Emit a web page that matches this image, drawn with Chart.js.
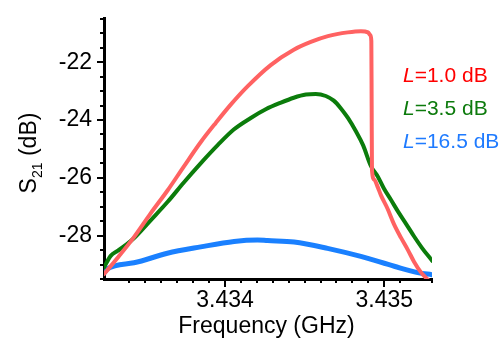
<!DOCTYPE html>
<html>
<head>
<meta charset="utf-8">
<script src="https://cdn.jsdelivr.net/npm/chart.js@4/dist/chart.umd.min.js"></script>
<style>
  html, body { margin: 0; padding: 0; background: #fff; }
  #c { display: block; }
</style>
</head>
<body>
<canvas id="c" width="502" height="339"></canvas>
<script>
// ---------- data ----------
const seriesLabels = ['L=1.0 dB', 'L=3.5 dB', 'L=16.5 dB'];

const redFreq = [3.43324, 3.433331, 3.433426, 3.433533, 3.43364, 3.43374, 3.433847, 3.433942, 3.434036,
                 3.434143, 3.434287, 3.434432, 3.434539, 3.434646, 3.434771, 3.434854, 3.434898,
                 3.434913, 3.434919, 3.434921, 3.434923, 3.434938, 3.43496, 3.434979, 3.435021, 3.435061,
                 3.435105, 3.435149, 3.435187, 3.435231, 3.435275];
const redS21  = [-29.33, -28.73, -28.07, -27.23, -26.43, -25.62, -24.77, -24.10, -23.47,
                 -22.83, -22.10, -21.57, -21.30, -21.10, -20.97, -20.93, -20.97,
                 -21.07, -21.27, -23.50, -25.73, -26.07, -26.33, -26.60, -27.07, -27.60,
                 -28.07, -28.50, -28.90, -29.27, -29.53];

const greenFreq = [3.43324, 3.433282, 3.433325, 3.433375, 3.433426, 3.433533, 3.43364, 3.43374, 3.433847,
                   3.433954, 3.434055, 3.434162, 3.434256, 3.434351, 3.434432, 3.434508, 3.43457,
                   3.434633, 3.434683, 3.434728, 3.434772, 3.434823, 3.434867, 3.434917, 3.434961,
                   3.434998, 3.435043, 3.435087, 3.435138, 3.435188, 3.435238, 3.435301];
const greenS21  = [-29.10, -28.70, -28.53, -28.33, -28.10, -27.47, -26.83, -26.17, -25.50,
                   -24.87, -24.33, -23.93, -23.63, -23.40, -23.23, -23.12, -23.10,
                   -23.17, -23.33, -23.60, -23.93, -24.40, -24.87, -25.60, -25.97,
                   -26.37, -26.77, -27.17, -27.60, -28.03, -28.43, -28.87];

const blueFreq = [3.43324, 3.43326, 3.433428, 3.433638, 3.433847, 3.434057, 3.434204, 3.434267, 3.434434,
                  3.434644, 3.434853, 3.435063, 3.43521, 3.4353];
const blueS21  = [-29.30, -29.15, -28.94, -28.61, -28.39, -28.20, -28.15, -28.17, -28.22,
                  -28.44, -28.72, -29.06, -29.28, -29.35];

const xMajorTicks = [3.434, 3.435];
const xTickLabels = ['3.434', '3.435'];
const yMajorTicks = [-28, -26, -24, -22];
const yTickLabels = ['-28', '-26', '-24', '-22'];

const xTitle = 'Frequency (GHz)';
const yTitleMain = 'S';
const yTitleSub = '21';
const yTitleRest = ' (dB)';

// ---------- styling ----------
const FONT = '"Liberation Sans", Arial, Helvetica, sans-serif';
const lineColors = ['#ff6262', '#0b7c0b', '#1a80ff'];
const textColors = ['#ff0000', '#0c7a0c', '#1f7bff'];

function toPoints(xs, ys) { return xs.map((v, i) => ({ x: v, y: ys[i] })); }
function near(a, b) { return Math.abs(a - b) < 1e-9; }

const decor = {
  id: 'decor',
  afterDraw(chart) {
    const { ctx, scales: { x, y } } = chart;
    ctx.save();
    ctx.strokeStyle = '#000';
    ctx.lineWidth = 2;
    x.ticks.forEach(t => {
      const r = t.value / 0.0001;
      if (Math.abs(r - Math.round(r)) > 1e-5) return;
      const major = xMajorTicks.some(m => near(m, t.value));
      const px = Math.round(x.getPixelForValue(t.value));
      ctx.beginPath();
      ctx.moveTo(px, x.top);
      ctx.lineTo(px, x.top + (major ? 8 : 4));
      ctx.stroke();
    });
    y.ticks.forEach(t => {
      const major = yMajorTicks.some(m => near(m, t.value));
      const py = Math.round(y.getPixelForValue(t.value));
      ctx.beginPath();
      ctx.moveTo(y.right, py);
      ctx.lineTo(y.right - (major ? 7 : 4), py);
      ctx.stroke();
    });

    ctx.fillStyle = '#000';
    ctx.font = '23px ' + FONT;
    ctx.textAlign = 'center';
    ctx.textBaseline = 'alphabetic';
    ctx.fillText(xTitle, 266.5, 333);

    ctx.save();
    ctx.translate(36, 153);
    ctx.rotate(-Math.PI / 2);
    const mainFont = '23px ' + FONT, subFont = '14px ' + FONT;
    ctx.font = mainFont; const w1 = ctx.measureText(yTitleMain).width;
    const w3 = ctx.measureText(yTitleRest).width;
    ctx.font = subFont; const w2 = ctx.measureText(yTitleSub).width;
    let sx = -(w1 + w2 + w3) / 2;
    ctx.textAlign = 'left';
    ctx.font = mainFont; ctx.fillText(yTitleMain, sx, 0); sx += w1;
    ctx.font = subFont; ctx.fillText(yTitleSub, sx, 6); sx += w2;
    ctx.font = mainFont; ctx.fillText(yTitleRest, sx, 0);
    ctx.restore();

    const baselines = [82, 115, 148];
    chart.data.datasets.forEach((ds, i) => {
      const lab = ds.label;
      let lx = 403;
      ctx.fillStyle = textColors[i];
      ctx.textAlign = 'left';
      ctx.font = 'italic 21px ' + FONT;
      ctx.fillText(lab[0], lx, baselines[i]);
      lx += ctx.measureText(lab[0]).width;
      ctx.font = '21px ' + FONT;
      ctx.fillText(lab.slice(1), lx, baselines[i]);
    });
    ctx.restore();
  }
};

const mk = (label, xs, ys, i, width) => ({
  label, data: toPoints(xs, ys),
  borderColor: lineColors[i], backgroundColor: lineColors[i],
  borderWidth: width, pointRadius: 0, fill: false,
  borderJoinStyle: 'round', borderCapStyle: 'round',
  cubicInterpolationMode: 'monotone', order: i
});

new Chart(document.getElementById('c'), {
  type: 'line',
  data: {
    datasets: [
      mk(seriesLabels[0], redFreq, redS21, 0, 4),
      mk(seriesLabels[1], greenFreq, greenS21, 1, 4),
      mk(seriesLabels[2], blueFreq, blueS21, 2, 5)
    ]
  },
  options: {
    responsive: false,
    animation: false,
    devicePixelRatio: 1,
    layout: { padding: { left: 0, right: 70, top: 10, bottom: 0 } },
    plugins: { legend: { display: false }, tooltip: { enabled: false } },
    scales: {
      x: {
        type: 'linear', position: 'bottom',
        min: 3.43324, max: 3.4353,
        afterFit(s) { s.height = 60; },
        grid: { drawOnChartArea: false, drawTicks: true, tickLength: 8, tickColor: 'rgba(0,0,0,0)' },
        border: { display: true, width: 3, color: '#000' },
        ticks: {
          stepSize: 0.0001, autoSkip: false, maxRotation: 0, minRotation: 0,
          padding: 0, color: '#000', font: { family: FONT, size: 23 },
          callback(v) { const k = xMajorTicks.findIndex(m => near(m, v)); return k >= 0 ? xTickLabels[k] : ''; }
        }
      },
      y: {
        type: 'linear', position: 'left',
        min: -29.5, max: -20.5,
        afterFit(s) { s.width = 104; },
        grid: { drawOnChartArea: false, drawTicks: true, tickLength: 7, tickColor: 'rgba(0,0,0,0)' },
        border: { display: true, width: 3, color: '#000' },
        ticks: {
          stepSize: 0.5, autoSkip: false,
          padding: 5, color: '#000', font: { family: FONT, size: 23 },
          callback(v) { const k = yMajorTicks.findIndex(m => near(m, v)); return k >= 0 ? yTickLabels[k] : ''; }
        }
      }
    }
  },
  plugins: [decor]
});
</script>
</body>
</html>
